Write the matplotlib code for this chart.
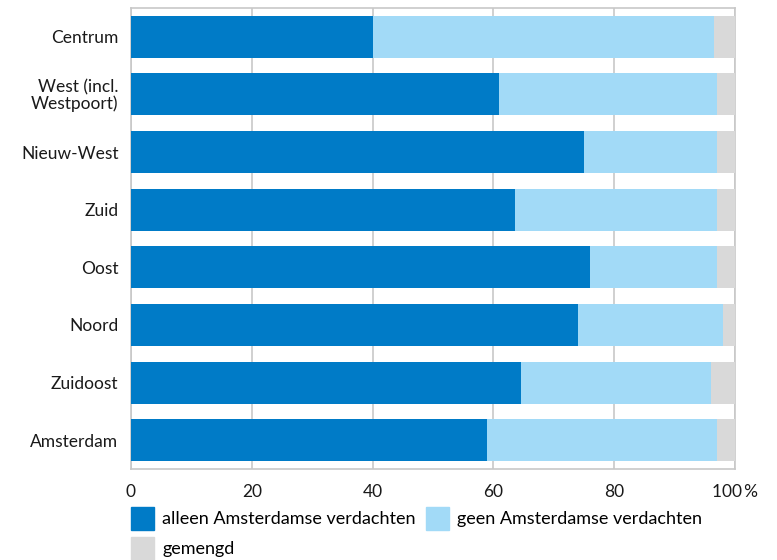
import matplotlib
matplotlib.use("Agg")
import matplotlib.pyplot as plt
from matplotlib.patches import Patch

plt.rcParams['font.family'] = ['Lato', 'DejaVu Sans']

stadsdelen = ['Centrum', 'West (incl.\nWestpoort)', 'Nieuw-West', 'Zuid', 'Oost',
              'Noord', 'Zuidoost', 'Amsterdam']
alleen = [40.0, 61.0, 75.0, 63.5, 76.0, 74.0, 64.5, 59.0]
geen = [56.5, 36.0, 22.0, 33.5, 21.0, 24.0, 31.5, 38.0]
gemengd = [100 - a - g for a, g in zip(alleen, geen)]

xticks = [0, 20, 40, 60, 80, 100]
xticklabels = ['0', '20', '40', '60', '80', '100\u2009%']

c_dark = '#007bc7'
c_light = '#a2daf7'
c_grey = '#d9d9d9'
c_grid = '#c8c8c8'

fig = plt.figure(figsize=(7.77, 5.6), dpi=100)
ax = fig.add_axes([131 / 777, 1 - 469 / 560, (735 - 131) / 777, (469 - 8) / 560])

y = list(range(len(stadsdelen)))
h = 0.73
left2 = alleen
left3 = [a + g for a, g in zip(alleen, geen)]
ax.barh(y, alleen, height=h, color=c_dark, zorder=3)
ax.barh(y, geen, left=left2, height=h, color=c_light, zorder=3)
ax.barh(y, gemengd, left=left3, height=h, color=c_grey, zorder=3)

ax.set_xlim(0, 100)
ax.set_ylim(len(stadsdelen) - 0.5, -0.5)
ax.set_yticks(y)
ax.set_yticklabels(stadsdelen, fontsize=12.5, color='#1a1a1a', linespacing=1.0)
ax.set_xticks(xticks)
ax.set_xticklabels(xticklabels, fontsize=12.5, color='#1a1a1a')
ax.tick_params(axis='both', length=0)
ax.tick_params(axis='y', pad=9)
ax.tick_params(axis='x', pad=11)

ax.grid(axis='x', color=c_grid, linewidth=1.2, zorder=0)
for s in ax.spines.values():
    s.set_color(c_grid)
    s.set_linewidth(1.2)

handles = [Patch(color=c_dark, label='alleen Amsterdamse verdachten'),
           Patch(color=c_grey, label='gemengd'),
           Patch(color=c_light, label='geen Amsterdamse verdachten')]
fig.legend(handles=handles, ncol=2, loc='upper left',
           bbox_to_anchor=(131 / 777, 1 - 507 / 560), frameon=False,
           fontsize=13, handlelength=1.28, handleheight=1.59,
           handletextpad=0.45, columnspacing=0.55, labelspacing=0.36,
           borderaxespad=0, borderpad=0)

fig.savefig('out.png', dpi=100)
